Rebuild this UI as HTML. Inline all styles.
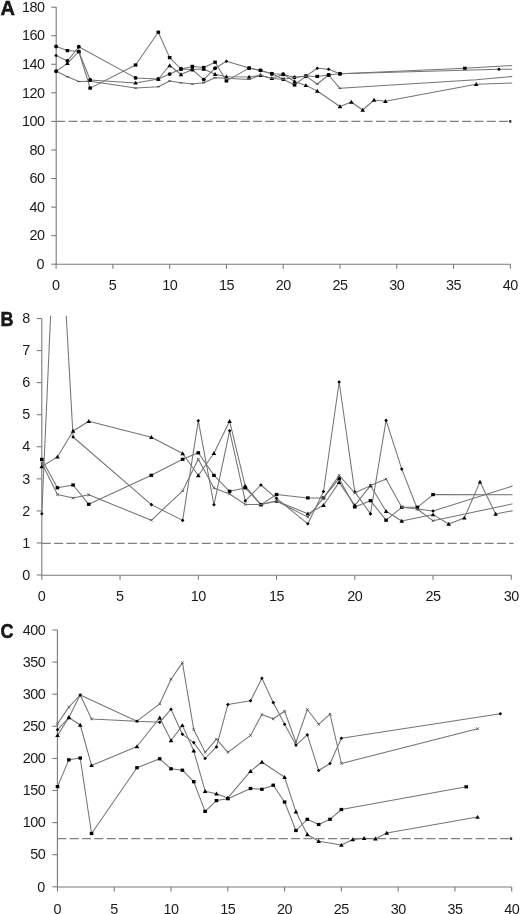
<!DOCTYPE html>
<html><head><meta charset="utf-8"><style>
html,body{margin:0;padding:0;background:#fff;width:520px;height:914px;overflow:hidden}
svg{display:block;filter:blur(0.4px)}
text{font-family:"Liberation Sans",sans-serif;fill:#1a1a1a}
</style></head><body>
<svg width="520" height="914" viewBox="0 0 520 914">
<defs>
<clipPath id="cA"><rect x="56.2" y="7.1" width="456.00" height="257.10"/></clipPath>
<clipPath id="cB"><rect x="38.8" y="315.8" width="473.80" height="259.50"/></clipPath>
<clipPath id="cC"><rect x="57.4" y="630.0" width="454.80" height="256.95"/></clipPath>
</defs>
<line x1="56.20" y1="7.10" x2="56.20" y2="264.20" stroke="#7a7a7a" stroke-width="1.1" />
<line x1="56.20" y1="264.20" x2="510.80" y2="264.20" stroke="#7a7a7a" stroke-width="1.1" />
<line x1="51.20" y1="264.20" x2="56.20" y2="264.20" stroke="#7a7a7a" stroke-width="1.1" />
<text x="44.40" y="268.90" text-anchor="end" font-size="14.4" font-weight="normal">0</text>
<line x1="51.20" y1="235.64" x2="56.20" y2="235.64" stroke="#7a7a7a" stroke-width="1.1" />
<text x="44.40" y="240.34" text-anchor="end" font-size="14.4" font-weight="normal" letter-spacing="-0.5">20</text>
<line x1="51.20" y1="207.09" x2="56.20" y2="207.09" stroke="#7a7a7a" stroke-width="1.1" />
<text x="44.40" y="211.79" text-anchor="end" font-size="14.4" font-weight="normal" letter-spacing="-0.5">40</text>
<line x1="51.20" y1="178.53" x2="56.20" y2="178.53" stroke="#7a7a7a" stroke-width="1.1" />
<text x="44.40" y="183.23" text-anchor="end" font-size="14.4" font-weight="normal" letter-spacing="-0.5">60</text>
<line x1="51.20" y1="149.98" x2="56.20" y2="149.98" stroke="#7a7a7a" stroke-width="1.1" />
<text x="44.40" y="154.68" text-anchor="end" font-size="14.4" font-weight="normal" letter-spacing="-0.5">80</text>
<line x1="51.20" y1="121.42" x2="56.20" y2="121.42" stroke="#7a7a7a" stroke-width="1.1" />
<text x="44.40" y="126.12" text-anchor="end" font-size="14.4" font-weight="normal" letter-spacing="-0.5">100</text>
<line x1="51.20" y1="92.86" x2="56.20" y2="92.86" stroke="#7a7a7a" stroke-width="1.1" />
<text x="44.40" y="97.56" text-anchor="end" font-size="14.4" font-weight="normal" letter-spacing="-0.5">120</text>
<line x1="51.20" y1="64.31" x2="56.20" y2="64.31" stroke="#7a7a7a" stroke-width="1.1" />
<text x="44.40" y="69.01" text-anchor="end" font-size="14.4" font-weight="normal" letter-spacing="-0.5">140</text>
<line x1="51.20" y1="35.75" x2="56.20" y2="35.75" stroke="#7a7a7a" stroke-width="1.1" />
<text x="44.40" y="40.45" text-anchor="end" font-size="14.4" font-weight="normal" letter-spacing="-0.5">160</text>
<line x1="51.20" y1="7.20" x2="56.20" y2="7.20" stroke="#7a7a7a" stroke-width="1.1" />
<text x="44.40" y="11.90" text-anchor="end" font-size="14.4" font-weight="normal" letter-spacing="-0.5">180</text>
<line x1="56.10" y1="264.20" x2="56.10" y2="268.70" stroke="#7a7a7a" stroke-width="1.1" />
<text x="56.10" y="289.80" text-anchor="middle" font-size="14.4" font-weight="normal">0</text>
<line x1="112.88" y1="264.20" x2="112.88" y2="268.70" stroke="#7a7a7a" stroke-width="1.1" />
<text x="112.88" y="289.80" text-anchor="middle" font-size="14.4" font-weight="normal">5</text>
<line x1="169.65" y1="264.20" x2="169.65" y2="268.70" stroke="#7a7a7a" stroke-width="1.1" />
<text x="169.65" y="289.80" text-anchor="middle" font-size="14.4" font-weight="normal" letter-spacing="-0.5">10</text>
<line x1="226.43" y1="264.20" x2="226.43" y2="268.70" stroke="#7a7a7a" stroke-width="1.1" />
<text x="226.43" y="289.80" text-anchor="middle" font-size="14.4" font-weight="normal" letter-spacing="-0.5">15</text>
<line x1="283.20" y1="264.20" x2="283.20" y2="268.70" stroke="#7a7a7a" stroke-width="1.1" />
<text x="283.20" y="289.80" text-anchor="middle" font-size="14.4" font-weight="normal" letter-spacing="-0.5">20</text>
<line x1="339.98" y1="264.20" x2="339.98" y2="268.70" stroke="#7a7a7a" stroke-width="1.1" />
<text x="339.98" y="289.80" text-anchor="middle" font-size="14.4" font-weight="normal" letter-spacing="-0.5">25</text>
<line x1="396.75" y1="264.20" x2="396.75" y2="268.70" stroke="#7a7a7a" stroke-width="1.1" />
<text x="396.75" y="289.80" text-anchor="middle" font-size="14.4" font-weight="normal" letter-spacing="-0.5">30</text>
<line x1="453.53" y1="264.20" x2="453.53" y2="268.70" stroke="#7a7a7a" stroke-width="1.1" />
<text x="453.53" y="289.80" text-anchor="middle" font-size="14.4" font-weight="normal" letter-spacing="-0.5">35</text>
<line x1="510.30" y1="264.20" x2="510.30" y2="268.70" stroke="#7a7a7a" stroke-width="1.1" />
<text x="510.30" y="289.80" text-anchor="middle" font-size="14.4" font-weight="normal" letter-spacing="-0.5">40</text>
<line x1="56.20" y1="121.42" x2="510.80" y2="121.42" stroke="#808080" stroke-width="1.1" stroke-dasharray="9 3.3"/>
<rect x="509.00" y="120.12" width="2.4" height="2.6" fill="#3a3a3a"/>
<line x1="41.80" y1="318.50" x2="41.80" y2="575.30" stroke="#7a7a7a" stroke-width="1.1" />
<line x1="41.80" y1="575.30" x2="511.40" y2="575.30" stroke="#7a7a7a" stroke-width="1.1" />
<line x1="36.80" y1="575.00" x2="41.80" y2="575.00" stroke="#7a7a7a" stroke-width="1.1" />
<text x="30.30" y="579.70" text-anchor="end" font-size="14.4" font-weight="normal">0</text>
<line x1="36.80" y1="542.94" x2="41.80" y2="542.94" stroke="#7a7a7a" stroke-width="1.1" />
<text x="30.30" y="547.64" text-anchor="end" font-size="14.4" font-weight="normal">1</text>
<line x1="36.80" y1="510.88" x2="41.80" y2="510.88" stroke="#7a7a7a" stroke-width="1.1" />
<text x="30.30" y="515.58" text-anchor="end" font-size="14.4" font-weight="normal">2</text>
<line x1="36.80" y1="478.82" x2="41.80" y2="478.82" stroke="#7a7a7a" stroke-width="1.1" />
<text x="30.30" y="483.52" text-anchor="end" font-size="14.4" font-weight="normal">3</text>
<line x1="36.80" y1="446.76" x2="41.80" y2="446.76" stroke="#7a7a7a" stroke-width="1.1" />
<text x="30.30" y="451.46" text-anchor="end" font-size="14.4" font-weight="normal">4</text>
<line x1="36.80" y1="414.70" x2="41.80" y2="414.70" stroke="#7a7a7a" stroke-width="1.1" />
<text x="30.30" y="419.40" text-anchor="end" font-size="14.4" font-weight="normal">5</text>
<line x1="36.80" y1="382.64" x2="41.80" y2="382.64" stroke="#7a7a7a" stroke-width="1.1" />
<text x="30.30" y="387.34" text-anchor="end" font-size="14.4" font-weight="normal">6</text>
<line x1="36.80" y1="350.58" x2="41.80" y2="350.58" stroke="#7a7a7a" stroke-width="1.1" />
<text x="30.30" y="355.28" text-anchor="end" font-size="14.4" font-weight="normal">7</text>
<line x1="36.80" y1="318.52" x2="41.80" y2="318.52" stroke="#7a7a7a" stroke-width="1.1" />
<text x="30.30" y="323.22" text-anchor="end" font-size="14.4" font-weight="normal">8</text>
<line x1="41.80" y1="575.30" x2="41.80" y2="579.80" stroke="#7a7a7a" stroke-width="1.1" />
<text x="41.80" y="601.20" text-anchor="middle" font-size="14.4" font-weight="normal">0</text>
<line x1="120.05" y1="575.30" x2="120.05" y2="579.80" stroke="#7a7a7a" stroke-width="1.1" />
<text x="120.05" y="601.20" text-anchor="middle" font-size="14.4" font-weight="normal">5</text>
<line x1="198.30" y1="575.30" x2="198.30" y2="579.80" stroke="#7a7a7a" stroke-width="1.1" />
<text x="198.30" y="601.20" text-anchor="middle" font-size="14.4" font-weight="normal" letter-spacing="-0.5">10</text>
<line x1="276.55" y1="575.30" x2="276.55" y2="579.80" stroke="#7a7a7a" stroke-width="1.1" />
<text x="276.55" y="601.20" text-anchor="middle" font-size="14.4" font-weight="normal" letter-spacing="-0.5">15</text>
<line x1="354.80" y1="575.30" x2="354.80" y2="579.80" stroke="#7a7a7a" stroke-width="1.1" />
<text x="354.80" y="601.20" text-anchor="middle" font-size="14.4" font-weight="normal" letter-spacing="-0.5">20</text>
<line x1="433.05" y1="575.30" x2="433.05" y2="579.80" stroke="#7a7a7a" stroke-width="1.1" />
<text x="433.05" y="601.20" text-anchor="middle" font-size="14.4" font-weight="normal" letter-spacing="-0.5">25</text>
<line x1="511.30" y1="575.30" x2="511.30" y2="579.80" stroke="#7a7a7a" stroke-width="1.1" />
<text x="511.30" y="601.20" text-anchor="middle" font-size="14.4" font-weight="normal" letter-spacing="-0.5">30</text>
<line x1="41.80" y1="543.35" x2="513.50" y2="543.35" stroke="#808080" stroke-width="1.1" stroke-dasharray="9 3.3"/>
<line x1="57.40" y1="630.00" x2="57.40" y2="886.95" stroke="#7a7a7a" stroke-width="1.1" />
<line x1="57.40" y1="886.95" x2="511.60" y2="886.95" stroke="#7a7a7a" stroke-width="1.1" />
<line x1="52.40" y1="886.80" x2="57.40" y2="886.80" stroke="#7a7a7a" stroke-width="1.1" />
<text x="45.30" y="891.50" text-anchor="end" font-size="14.4" font-weight="normal">0</text>
<line x1="52.40" y1="854.70" x2="57.40" y2="854.70" stroke="#7a7a7a" stroke-width="1.1" />
<text x="45.30" y="859.40" text-anchor="end" font-size="14.4" font-weight="normal" letter-spacing="-0.5">50</text>
<line x1="52.40" y1="822.60" x2="57.40" y2="822.60" stroke="#7a7a7a" stroke-width="1.1" />
<text x="45.30" y="827.30" text-anchor="end" font-size="14.4" font-weight="normal" letter-spacing="-0.5">100</text>
<line x1="52.40" y1="790.50" x2="57.40" y2="790.50" stroke="#7a7a7a" stroke-width="1.1" />
<text x="45.30" y="795.20" text-anchor="end" font-size="14.4" font-weight="normal" letter-spacing="-0.5">150</text>
<line x1="52.40" y1="758.40" x2="57.40" y2="758.40" stroke="#7a7a7a" stroke-width="1.1" />
<text x="45.30" y="763.10" text-anchor="end" font-size="14.4" font-weight="normal" letter-spacing="-0.5">200</text>
<line x1="52.40" y1="726.30" x2="57.40" y2="726.30" stroke="#7a7a7a" stroke-width="1.1" />
<text x="45.30" y="731.00" text-anchor="end" font-size="14.4" font-weight="normal" letter-spacing="-0.5">250</text>
<line x1="52.40" y1="694.20" x2="57.40" y2="694.20" stroke="#7a7a7a" stroke-width="1.1" />
<text x="45.30" y="698.90" text-anchor="end" font-size="14.4" font-weight="normal" letter-spacing="-0.5">300</text>
<line x1="52.40" y1="662.10" x2="57.40" y2="662.10" stroke="#7a7a7a" stroke-width="1.1" />
<text x="45.30" y="666.80" text-anchor="end" font-size="14.4" font-weight="normal" letter-spacing="-0.5">350</text>
<line x1="52.40" y1="630.00" x2="57.40" y2="630.00" stroke="#7a7a7a" stroke-width="1.1" />
<text x="45.30" y="634.70" text-anchor="end" font-size="14.4" font-weight="normal" letter-spacing="-0.5">400</text>
<line x1="57.50" y1="886.95" x2="57.50" y2="891.45" stroke="#7a7a7a" stroke-width="1.1" />
<text x="57.50" y="913.50" text-anchor="middle" font-size="14.4" font-weight="normal">0</text>
<line x1="114.28" y1="886.95" x2="114.28" y2="891.45" stroke="#7a7a7a" stroke-width="1.1" />
<text x="114.28" y="913.50" text-anchor="middle" font-size="14.4" font-weight="normal">5</text>
<line x1="171.05" y1="886.95" x2="171.05" y2="891.45" stroke="#7a7a7a" stroke-width="1.1" />
<text x="171.05" y="913.50" text-anchor="middle" font-size="14.4" font-weight="normal" letter-spacing="-0.5">10</text>
<line x1="227.83" y1="886.95" x2="227.83" y2="891.45" stroke="#7a7a7a" stroke-width="1.1" />
<text x="227.83" y="913.50" text-anchor="middle" font-size="14.4" font-weight="normal" letter-spacing="-0.5">15</text>
<line x1="284.60" y1="886.95" x2="284.60" y2="891.45" stroke="#7a7a7a" stroke-width="1.1" />
<text x="284.60" y="913.50" text-anchor="middle" font-size="14.4" font-weight="normal" letter-spacing="-0.5">20</text>
<line x1="341.38" y1="886.95" x2="341.38" y2="891.45" stroke="#7a7a7a" stroke-width="1.1" />
<text x="341.38" y="913.50" text-anchor="middle" font-size="14.4" font-weight="normal" letter-spacing="-0.5">25</text>
<line x1="398.15" y1="886.95" x2="398.15" y2="891.45" stroke="#7a7a7a" stroke-width="1.1" />
<text x="398.15" y="913.50" text-anchor="middle" font-size="14.4" font-weight="normal" letter-spacing="-0.5">30</text>
<line x1="454.93" y1="886.95" x2="454.93" y2="891.45" stroke="#7a7a7a" stroke-width="1.1" />
<text x="454.93" y="913.50" text-anchor="middle" font-size="14.4" font-weight="normal" letter-spacing="-0.5">35</text>
<line x1="511.70" y1="886.95" x2="511.70" y2="891.45" stroke="#7a7a7a" stroke-width="1.1" />
<text x="511.70" y="913.50" text-anchor="middle" font-size="14.4" font-weight="normal" letter-spacing="-0.5">40</text>
<line x1="57.40" y1="838.65" x2="511.60" y2="838.65" stroke="#808080" stroke-width="1.1" stroke-dasharray="9 3.3"/>
<rect x="509.80" y="837.35" width="2.4" height="2.6" fill="#3a3a3a"/>
<polyline points="56.10,46.50 67.45,50.60 78.81,51.50 90.16,88.10 135.59,65.00 158.30,32.20 169.65,57.60 181.00,69.00 192.36,66.40 203.72,67.50 215.07,62.20 226.43,80.90 249.13,68.10 260.49,70.40 271.85,73.80 283.20,79.30 294.56,85.00 305.91,76.10 317.27,76.40 328.62,75.00 339.98,73.80 464.88,68.30 521.65,65.00" fill="none" stroke="#747474" stroke-width="1.05" stroke-linejoin="round" clip-path="url(#cA)"/>
<rect x="65.66" y="49.00" width="3.6" height="3.2" fill="#000"/>
<rect x="77.01" y="49.90" width="3.6" height="3.2" fill="#000"/>
<rect x="88.36" y="86.50" width="3.6" height="3.2" fill="#000"/>
<rect x="133.78" y="63.40" width="3.6" height="3.2" fill="#000"/>
<rect x="156.50" y="30.60" width="3.6" height="3.2" fill="#000"/>
<rect x="167.85" y="56.00" width="3.6" height="3.2" fill="#000"/>
<rect x="179.20" y="67.40" width="3.6" height="3.2" fill="#000"/>
<rect x="190.56" y="64.80" width="3.6" height="3.2" fill="#000"/>
<rect x="201.91" y="65.90" width="3.6" height="3.2" fill="#000"/>
<rect x="213.27" y="60.60" width="3.6" height="3.2" fill="#000"/>
<rect x="224.62" y="79.30" width="3.6" height="3.2" fill="#000"/>
<rect x="247.33" y="66.50" width="3.6" height="3.2" fill="#000"/>
<rect x="258.69" y="68.80" width="3.6" height="3.2" fill="#000"/>
<rect x="270.05" y="72.20" width="3.6" height="3.2" fill="#000"/>
<rect x="281.40" y="77.70" width="3.6" height="3.2" fill="#000"/>
<rect x="292.75" y="83.40" width="3.6" height="3.2" fill="#000"/>
<rect x="304.11" y="74.50" width="3.6" height="3.2" fill="#000"/>
<rect x="315.47" y="74.80" width="3.6" height="3.2" fill="#000"/>
<rect x="326.82" y="73.40" width="3.6" height="3.2" fill="#000"/>
<rect x="338.18" y="72.20" width="3.6" height="3.2" fill="#000"/>
<rect x="463.08" y="66.70" width="3.6" height="3.2" fill="#000"/>
<polyline points="56.10,55.50 67.45,61.00 78.81,46.80 135.59,77.90 158.30,79.00 169.65,74.10 181.00,69.00 192.36,69.60 203.72,79.60 215.07,68.20 226.43,61.20 249.13,68.10 260.49,70.40 271.85,73.80 283.20,74.20 294.56,77.40 305.91,76.10 317.27,68.30 328.62,69.20 339.98,73.80 498.95,69.20 521.65,69.20" fill="none" stroke="#747474" stroke-width="1.05" stroke-linejoin="round" clip-path="url(#cA)"/>
<circle cx="67.45" cy="61.00" r="1.95" fill="#000"/>
<circle cx="78.81" cy="46.80" r="1.95" fill="#000"/>
<circle cx="135.59" cy="77.90" r="1.95" fill="#000"/>
<circle cx="158.30" cy="79.00" r="1.95" fill="#000"/>
<circle cx="169.65" cy="74.10" r="1.95" fill="#000"/>
<circle cx="181.00" cy="69.00" r="1.95" fill="#000"/>
<circle cx="192.36" cy="69.60" r="1.95" fill="#000"/>
<circle cx="203.72" cy="79.60" r="1.95" fill="#000"/>
<circle cx="215.07" cy="68.20" r="1.95" fill="#000"/>
<circle cx="249.13" cy="68.10" r="1.95" fill="#000"/>
<circle cx="260.49" cy="70.40" r="1.95" fill="#000"/>
<circle cx="271.85" cy="73.80" r="1.95" fill="#000"/>
<circle cx="283.20" cy="74.20" r="1.95" fill="#000"/>
<circle cx="294.56" cy="77.40" r="1.95" fill="#000"/>
<circle cx="305.91" cy="76.10" r="1.95" fill="#000"/>
<circle cx="339.98" cy="73.80" r="1.95" fill="#000"/>
<polyline points="56.10,71.30 67.45,63.40 78.81,51.50 90.16,80.00 135.59,82.90 158.30,79.00 169.65,65.50 181.00,74.50 192.36,69.60 203.72,69.00 215.07,74.20 226.43,76.80 249.13,77.00 260.49,75.30 271.85,78.40 283.20,74.20 294.56,81.50 305.91,85.40 317.27,91.00 339.98,106.50 351.33,102.00 362.69,110.00 374.04,100.00 385.40,101.20 476.24,84.20 521.65,82.60" fill="none" stroke="#747474" stroke-width="1.05" stroke-linejoin="round" clip-path="url(#cA)"/>
<path d="M67.45 61.20L69.75 65.10L65.16 65.10Z" fill="#000"/>
<path d="M78.81 49.30L81.11 53.20L76.51 53.20Z" fill="#000"/>
<path d="M135.59 80.70L137.89 84.60L133.28 84.60Z" fill="#000"/>
<path d="M158.30 76.80L160.60 80.70L156.00 80.70Z" fill="#000"/>
<path d="M169.65 63.30L171.95 67.20L167.35 67.20Z" fill="#000"/>
<path d="M181.00 72.30L183.31 76.20L178.70 76.20Z" fill="#000"/>
<path d="M192.36 67.40L194.66 71.30L190.06 71.30Z" fill="#000"/>
<path d="M203.72 66.80L206.02 70.70L201.41 70.70Z" fill="#000"/>
<path d="M215.07 72.00L217.37 75.90L212.77 75.90Z" fill="#000"/>
<path d="M226.43 74.60L228.73 78.50L224.12 78.50Z" fill="#000"/>
<path d="M249.13 74.80L251.44 78.70L246.83 78.70Z" fill="#000"/>
<path d="M260.49 73.10L262.79 77.00L258.19 77.00Z" fill="#000"/>
<path d="M271.85 76.20L274.15 80.10L269.55 80.10Z" fill="#000"/>
<path d="M283.20 72.00L285.50 75.90L280.90 75.90Z" fill="#000"/>
<path d="M294.56 79.30L296.86 83.20L292.25 83.20Z" fill="#000"/>
<path d="M305.91 83.20L308.21 87.10L303.61 87.10Z" fill="#000"/>
<path d="M317.27 88.80L319.57 92.70L314.97 92.70Z" fill="#000"/>
<path d="M339.98 104.30L342.28 108.20L337.68 108.20Z" fill="#000"/>
<path d="M351.33 99.80L353.63 103.70L349.03 103.70Z" fill="#000"/>
<path d="M362.69 107.80L364.99 111.70L360.39 111.70Z" fill="#000"/>
<path d="M374.04 97.80L376.34 101.70L371.74 101.70Z" fill="#000"/>
<path d="M385.40 99.00L387.70 102.90L383.10 102.90Z" fill="#000"/>
<path d="M476.24 82.00L478.54 85.90L473.94 85.90Z" fill="#000"/>
<polyline points="56.10,71.30 67.45,76.80 78.81,81.50 90.16,81.20 135.59,88.10 158.30,86.70 169.65,81.00 181.00,82.80 192.36,84.00 203.72,82.80 215.07,77.70 249.13,79.40 260.49,75.30 271.85,78.40 283.20,79.30 294.56,77.40 305.91,76.10 317.27,84.00 328.62,75.00 339.98,88.30 476.24,79.80 521.65,75.60" fill="none" stroke="#747474" stroke-width="1.05" stroke-linejoin="round" clip-path="url(#cA)"/>
<rect x="54.50" y="70.70" width="3.2" height="1.2" fill="#555"/>
<rect x="65.86" y="76.20" width="3.2" height="1.2" fill="#555"/>
<rect x="77.21" y="80.90" width="3.2" height="1.2" fill="#555"/>
<rect x="88.56" y="80.60" width="3.2" height="1.2" fill="#555"/>
<rect x="133.99" y="87.50" width="3.2" height="1.2" fill="#555"/>
<rect x="156.70" y="86.10" width="3.2" height="1.2" fill="#555"/>
<rect x="168.05" y="80.40" width="3.2" height="1.2" fill="#555"/>
<rect x="179.41" y="82.20" width="3.2" height="1.2" fill="#555"/>
<rect x="190.76" y="83.40" width="3.2" height="1.2" fill="#555"/>
<rect x="202.12" y="82.20" width="3.2" height="1.2" fill="#555"/>
<rect x="213.47" y="77.10" width="3.2" height="1.2" fill="#555"/>
<rect x="247.53" y="78.80" width="3.2" height="1.2" fill="#555"/>
<rect x="258.89" y="74.70" width="3.2" height="1.2" fill="#555"/>
<rect x="270.25" y="77.80" width="3.2" height="1.2" fill="#555"/>
<rect x="281.60" y="78.70" width="3.2" height="1.2" fill="#555"/>
<rect x="292.95" y="76.80" width="3.2" height="1.2" fill="#555"/>
<rect x="304.31" y="75.50" width="3.2" height="1.2" fill="#555"/>
<rect x="315.67" y="83.40" width="3.2" height="1.2" fill="#555"/>
<rect x="327.02" y="74.40" width="3.2" height="1.2" fill="#555"/>
<rect x="338.38" y="87.70" width="3.2" height="1.2" fill="#555"/>
<polyline points="41.80,513.80 57.45,161.00 73.10,437.00 151.35,504.60 182.65,520.40 198.30,420.70 213.95,504.80 229.60,430.80 245.25,500.90 260.90,485.00 276.55,498.30 307.85,523.80 323.50,491.50 339.15,382.00 354.80,491.90 370.45,513.90 386.10,420.40 401.75,469.10 417.40,509.00 433.05,511.00 519.12,484.00" fill="none" stroke="#747474" stroke-width="1.05" stroke-linejoin="round" clip-path="url(#cB)"/>
<path d="M41.80 512.00L43.60 513.80L41.80 515.60L40.00 513.80Z" fill="#000"/>
<path d="M73.10 435.20L74.90 437.00L73.10 438.80L71.30 437.00Z" fill="#000"/>
<path d="M151.35 502.80L153.15 504.60L151.35 506.40L149.55 504.60Z" fill="#000"/>
<path d="M182.65 518.60L184.45 520.40L182.65 522.20L180.85 520.40Z" fill="#000"/>
<path d="M198.30 418.90L200.10 420.70L198.30 422.50L196.50 420.70Z" fill="#000"/>
<path d="M213.95 503.00L215.75 504.80L213.95 506.60L212.15 504.80Z" fill="#000"/>
<path d="M229.60 429.00L231.40 430.80L229.60 432.60L227.80 430.80Z" fill="#000"/>
<path d="M245.25 499.10L247.05 500.90L245.25 502.70L243.45 500.90Z" fill="#000"/>
<path d="M260.90 483.20L262.70 485.00L260.90 486.80L259.10 485.00Z" fill="#000"/>
<path d="M276.55 496.50L278.35 498.30L276.55 500.10L274.75 498.30Z" fill="#000"/>
<path d="M307.85 522.00L309.65 523.80L307.85 525.60L306.05 523.80Z" fill="#000"/>
<path d="M323.50 489.70L325.30 491.50L323.50 493.30L321.70 491.50Z" fill="#000"/>
<path d="M339.15 380.20L340.95 382.00L339.15 383.80L337.35 382.00Z" fill="#000"/>
<path d="M354.80 490.10L356.60 491.90L354.80 493.70L353.00 491.90Z" fill="#000"/>
<path d="M370.45 512.10L372.25 513.90L370.45 515.70L368.65 513.90Z" fill="#000"/>
<path d="M386.10 418.60L387.90 420.40L386.10 422.20L384.30 420.40Z" fill="#000"/>
<path d="M401.75 467.30L403.55 469.10L401.75 470.90L399.95 469.10Z" fill="#000"/>
<path d="M417.40 507.20L419.20 509.00L417.40 510.80L415.60 509.00Z" fill="#000"/>
<path d="M433.05 509.20L434.85 511.00L433.05 512.80L431.25 511.00Z" fill="#000"/>
<polyline points="41.80,466.50 57.45,456.90 73.10,431.00 88.75,421.20 151.35,437.20 182.65,453.50 198.30,475.50 213.95,453.30 229.60,421.20 245.25,486.10 260.90,504.60 276.55,501.00 307.85,513.70 323.50,505.30 339.15,482.40 354.80,505.40 370.45,485.60 386.10,511.30 401.75,521.00 433.05,514.60 448.70,524.00 464.35,517.90 480.00,481.90 495.65,514.00 519.12,509.40" fill="none" stroke="#747474" stroke-width="1.05" stroke-linejoin="round" clip-path="url(#cB)"/>
<path d="M41.80 464.30L44.10 468.20L39.50 468.20Z" fill="#000"/>
<path d="M57.45 454.70L59.75 458.60L55.15 458.60Z" fill="#000"/>
<path d="M73.10 428.80L75.40 432.70L70.80 432.70Z" fill="#000"/>
<path d="M88.75 419.00L91.05 422.90L86.45 422.90Z" fill="#000"/>
<path d="M151.35 435.00L153.65 438.90L149.05 438.90Z" fill="#000"/>
<path d="M182.65 451.30L184.95 455.20L180.35 455.20Z" fill="#000"/>
<path d="M198.30 473.30L200.60 477.20L196.00 477.20Z" fill="#000"/>
<path d="M213.95 451.10L216.25 455.00L211.65 455.00Z" fill="#000"/>
<path d="M229.60 419.00L231.90 422.90L227.30 422.90Z" fill="#000"/>
<path d="M245.25 483.90L247.55 487.80L242.95 487.80Z" fill="#000"/>
<path d="M260.90 502.40L263.20 506.30L258.60 506.30Z" fill="#000"/>
<path d="M276.55 498.80L278.85 502.70L274.25 502.70Z" fill="#000"/>
<path d="M307.85 511.50L310.15 515.40L305.55 515.40Z" fill="#000"/>
<path d="M323.50 503.10L325.80 507.00L321.20 507.00Z" fill="#000"/>
<path d="M339.15 480.20L341.45 484.10L336.85 484.10Z" fill="#000"/>
<path d="M354.80 503.20L357.10 507.10L352.50 507.10Z" fill="#000"/>
<path d="M370.45 483.40L372.75 487.30L368.15 487.30Z" fill="#000"/>
<path d="M386.10 509.10L388.40 513.00L383.80 513.00Z" fill="#000"/>
<path d="M401.75 518.80L404.05 522.70L399.45 522.70Z" fill="#000"/>
<path d="M433.05 512.40L435.35 516.30L430.75 516.30Z" fill="#000"/>
<path d="M448.70 521.80L451.00 525.70L446.40 525.70Z" fill="#000"/>
<path d="M464.35 515.70L466.65 519.60L462.05 519.60Z" fill="#000"/>
<path d="M480.00 479.70L482.30 483.60L477.70 483.60Z" fill="#000"/>
<path d="M495.65 511.80L497.95 515.70L493.35 515.70Z" fill="#000"/>
<polyline points="41.80,459.40 57.45,487.80 73.10,485.00 88.75,504.30 151.35,475.30 182.65,459.30 198.30,452.80 213.95,475.40 229.60,491.30 245.25,487.90 260.90,504.60 276.55,494.50 307.85,497.90 323.50,497.90 339.15,478.70 354.80,506.90 370.45,500.70 386.10,520.20 401.75,507.30 417.40,507.30 433.05,494.60 519.12,494.80" fill="none" stroke="#747474" stroke-width="1.05" stroke-linejoin="round" clip-path="url(#cB)"/>
<rect x="40.00" y="457.80" width="3.6" height="3.2" fill="#000"/>
<rect x="55.65" y="486.20" width="3.6" height="3.2" fill="#000"/>
<rect x="71.30" y="483.40" width="3.6" height="3.2" fill="#000"/>
<rect x="86.95" y="502.70" width="3.6" height="3.2" fill="#000"/>
<rect x="149.55" y="473.70" width="3.6" height="3.2" fill="#000"/>
<rect x="180.85" y="457.70" width="3.6" height="3.2" fill="#000"/>
<rect x="196.50" y="451.20" width="3.6" height="3.2" fill="#000"/>
<rect x="212.15" y="473.80" width="3.6" height="3.2" fill="#000"/>
<rect x="227.80" y="489.70" width="3.6" height="3.2" fill="#000"/>
<rect x="243.45" y="486.30" width="3.6" height="3.2" fill="#000"/>
<rect x="259.10" y="503.00" width="3.6" height="3.2" fill="#000"/>
<rect x="274.75" y="492.90" width="3.6" height="3.2" fill="#000"/>
<rect x="306.05" y="496.30" width="3.6" height="3.2" fill="#000"/>
<rect x="321.70" y="496.30" width="3.6" height="3.2" fill="#000"/>
<rect x="337.35" y="477.10" width="3.6" height="3.2" fill="#000"/>
<rect x="353.00" y="505.30" width="3.6" height="3.2" fill="#000"/>
<rect x="368.65" y="499.10" width="3.6" height="3.2" fill="#000"/>
<rect x="384.30" y="518.60" width="3.6" height="3.2" fill="#000"/>
<rect x="399.95" y="505.70" width="3.6" height="3.2" fill="#000"/>
<rect x="415.60" y="505.70" width="3.6" height="3.2" fill="#000"/>
<rect x="431.25" y="493.00" width="3.6" height="3.2" fill="#000"/>
<polyline points="41.80,463.00 57.45,494.60 73.10,498.00 88.75,494.80 151.35,520.30 182.65,490.80 198.30,459.30 213.95,487.90 229.60,494.00 245.25,504.40 260.90,504.60 276.55,501.00 307.85,517.10 323.50,497.90 339.15,475.40 354.80,493.00 370.45,485.60 386.10,479.10 401.75,507.30 417.40,509.00 433.05,520.80 519.12,502.50" fill="none" stroke="#747474" stroke-width="1.05" stroke-linejoin="round" clip-path="url(#cB)"/>
<path d="M40.50 461.70L43.10 464.30M43.10 461.70L40.50 464.30" stroke="#555" stroke-width="0.9"/>
<path d="M56.15 493.30L58.75 495.90M58.75 493.30L56.15 495.90" stroke="#555" stroke-width="0.9"/>
<path d="M71.80 496.70L74.40 499.30M74.40 496.70L71.80 499.30" stroke="#555" stroke-width="0.9"/>
<path d="M87.45 493.50L90.05 496.10M90.05 493.50L87.45 496.10" stroke="#555" stroke-width="0.9"/>
<path d="M150.05 519.00L152.65 521.60M152.65 519.00L150.05 521.60" stroke="#555" stroke-width="0.9"/>
<path d="M181.35 489.50L183.95 492.10M183.95 489.50L181.35 492.10" stroke="#555" stroke-width="0.9"/>
<path d="M197.00 458.00L199.60 460.60M199.60 458.00L197.00 460.60" stroke="#555" stroke-width="0.9"/>
<path d="M212.65 486.60L215.25 489.20M215.25 486.60L212.65 489.20" stroke="#555" stroke-width="0.9"/>
<path d="M228.30 492.70L230.90 495.30M230.90 492.70L228.30 495.30" stroke="#555" stroke-width="0.9"/>
<path d="M243.95 503.10L246.55 505.70M246.55 503.10L243.95 505.70" stroke="#555" stroke-width="0.9"/>
<path d="M259.60 503.30L262.20 505.90M262.20 503.30L259.60 505.90" stroke="#555" stroke-width="0.9"/>
<path d="M275.25 499.70L277.85 502.30M277.85 499.70L275.25 502.30" stroke="#555" stroke-width="0.9"/>
<path d="M306.55 515.80L309.15 518.40M309.15 515.80L306.55 518.40" stroke="#555" stroke-width="0.9"/>
<path d="M322.20 496.60L324.80 499.20M324.80 496.60L322.20 499.20" stroke="#555" stroke-width="0.9"/>
<path d="M337.85 474.10L340.45 476.70M340.45 474.10L337.85 476.70" stroke="#555" stroke-width="0.9"/>
<path d="M353.50 491.70L356.10 494.30M356.10 491.70L353.50 494.30" stroke="#555" stroke-width="0.9"/>
<path d="M369.15 484.30L371.75 486.90M371.75 484.30L369.15 486.90" stroke="#555" stroke-width="0.9"/>
<path d="M384.80 477.80L387.40 480.40M387.40 477.80L384.80 480.40" stroke="#555" stroke-width="0.9"/>
<path d="M400.45 506.00L403.05 508.60M403.05 506.00L400.45 508.60" stroke="#555" stroke-width="0.9"/>
<path d="M416.10 507.70L418.70 510.30M418.70 507.70L416.10 510.30" stroke="#555" stroke-width="0.9"/>
<path d="M431.75 519.50L434.35 522.10M434.35 519.50L431.75 522.10" stroke="#555" stroke-width="0.9"/>
<polyline points="57.50,723.80 68.86,707.10 80.21,695.00 91.56,719.00 136.99,721.20 159.69,703.80 171.05,679.20 182.41,662.60 193.76,729.70 205.12,752.30 216.47,739.20 227.83,752.30 250.53,735.40 261.89,714.60 273.25,718.80 284.60,711.20 295.96,742.30 307.31,709.50 318.67,724.30 330.02,714.20 341.38,763.50 477.63,728.70" fill="none" stroke="#747474" stroke-width="1.05" stroke-linejoin="round" clip-path="url(#cC)"/>
<path d="M56.20 722.50L58.80 725.10M58.80 722.50L56.20 725.10" stroke="#555" stroke-width="0.9"/>
<path d="M67.56 705.80L70.16 708.40M70.16 705.80L67.56 708.40" stroke="#555" stroke-width="0.9"/>
<path d="M78.91 693.70L81.51 696.30M81.51 693.70L78.91 696.30" stroke="#555" stroke-width="0.9"/>
<path d="M90.27 717.70L92.86 720.30M92.86 717.70L90.27 720.30" stroke="#555" stroke-width="0.9"/>
<path d="M135.69 719.90L138.29 722.50M138.29 719.90L135.69 722.50" stroke="#555" stroke-width="0.9"/>
<path d="M158.39 702.50L161.00 705.10M161.00 702.50L158.39 705.10" stroke="#555" stroke-width="0.9"/>
<path d="M169.75 677.90L172.35 680.50M172.35 677.90L169.75 680.50" stroke="#555" stroke-width="0.9"/>
<path d="M181.10 661.30L183.71 663.90M183.71 661.30L181.10 663.90" stroke="#555" stroke-width="0.9"/>
<path d="M192.46 728.40L195.06 731.00M195.06 728.40L192.46 731.00" stroke="#555" stroke-width="0.9"/>
<path d="M203.81 751.00L206.42 753.60M206.42 751.00L203.81 753.60" stroke="#555" stroke-width="0.9"/>
<path d="M215.17 737.90L217.77 740.50M217.77 737.90L215.17 740.50" stroke="#555" stroke-width="0.9"/>
<path d="M226.53 751.00L229.13 753.60M229.13 751.00L226.53 753.60" stroke="#555" stroke-width="0.9"/>
<path d="M249.23 734.10L251.84 736.70M251.84 734.10L249.23 736.70" stroke="#555" stroke-width="0.9"/>
<path d="M260.59 713.30L263.19 715.90M263.19 713.30L260.59 715.90" stroke="#555" stroke-width="0.9"/>
<path d="M271.94 717.50L274.55 720.10M274.55 717.50L271.94 720.10" stroke="#555" stroke-width="0.9"/>
<path d="M283.30 709.90L285.90 712.50M285.90 709.90L283.30 712.50" stroke="#555" stroke-width="0.9"/>
<path d="M294.66 741.00L297.26 743.60M297.26 741.00L294.66 743.60" stroke="#555" stroke-width="0.9"/>
<path d="M306.01 708.20L308.61 710.80M308.61 708.20L306.01 710.80" stroke="#555" stroke-width="0.9"/>
<path d="M317.37 723.00L319.97 725.60M319.97 723.00L317.37 725.60" stroke="#555" stroke-width="0.9"/>
<path d="M328.72 712.90L331.32 715.50M331.32 712.90L328.72 715.50" stroke="#555" stroke-width="0.9"/>
<path d="M340.07 762.20L342.68 764.80M342.68 762.20L340.07 764.80" stroke="#555" stroke-width="0.9"/>
<path d="M476.33 727.40L478.94 730.00M478.94 727.40L476.33 730.00" stroke="#555" stroke-width="0.9"/>
<polyline points="57.50,729.80 68.86,717.50 80.21,695.00 136.99,721.20 159.69,722.30 171.05,709.20 182.41,734.30 193.76,742.60 205.12,758.50 216.47,746.90 227.83,704.60 250.53,700.80 261.89,678.20 273.25,702.60 284.60,724.30 295.96,745.10 307.31,734.90 318.67,770.50 330.02,763.50 341.38,738.20 500.35,713.70" fill="none" stroke="#747474" stroke-width="1.05" stroke-linejoin="round" clip-path="url(#cC)"/>
<path d="M57.50 728.00L59.30 729.80L57.50 731.60L55.70 729.80Z" fill="#000"/>
<path d="M68.86 715.70L70.66 717.50L68.86 719.30L67.06 717.50Z" fill="#000"/>
<path d="M80.21 693.20L82.01 695.00L80.21 696.80L78.41 695.00Z" fill="#000"/>
<path d="M136.99 719.40L138.79 721.20L136.99 723.00L135.19 721.20Z" fill="#000"/>
<path d="M159.69 720.50L161.50 722.30L159.69 724.10L157.89 722.30Z" fill="#000"/>
<path d="M171.05 707.40L172.85 709.20L171.05 711.00L169.25 709.20Z" fill="#000"/>
<path d="M182.41 732.50L184.21 734.30L182.41 736.10L180.60 734.30Z" fill="#000"/>
<path d="M193.76 740.80L195.56 742.60L193.76 744.40L191.96 742.60Z" fill="#000"/>
<path d="M205.12 756.70L206.92 758.50L205.12 760.30L203.31 758.50Z" fill="#000"/>
<path d="M216.47 745.10L218.27 746.90L216.47 748.70L214.67 746.90Z" fill="#000"/>
<path d="M227.83 702.80L229.63 704.60L227.83 706.40L226.03 704.60Z" fill="#000"/>
<path d="M250.53 699.00L252.34 700.80L250.53 702.60L248.73 700.80Z" fill="#000"/>
<path d="M261.89 676.40L263.69 678.20L261.89 680.00L260.09 678.20Z" fill="#000"/>
<path d="M273.25 700.80L275.05 702.60L273.25 704.40L271.44 702.60Z" fill="#000"/>
<path d="M284.60 722.50L286.40 724.30L284.60 726.10L282.80 724.30Z" fill="#000"/>
<path d="M295.96 743.30L297.76 745.10L295.96 746.90L294.16 745.10Z" fill="#000"/>
<path d="M307.31 733.10L309.11 734.90L307.31 736.70L305.51 734.90Z" fill="#000"/>
<path d="M318.67 768.70L320.47 770.50L318.67 772.30L316.87 770.50Z" fill="#000"/>
<path d="M330.02 761.70L331.82 763.50L330.02 765.30L328.22 763.50Z" fill="#000"/>
<path d="M341.38 736.40L343.18 738.20L341.38 740.00L339.57 738.20Z" fill="#000"/>
<path d="M500.35 711.90L502.15 713.70L500.35 715.50L498.55 713.70Z" fill="#000"/>
<polyline points="57.50,735.40 68.86,717.50 80.21,725.00 91.56,765.40 136.99,746.50 159.69,717.70 171.05,740.50 182.41,725.40 193.76,750.80 205.12,791.20 216.47,793.80 227.83,797.90 250.53,771.20 261.89,762.00 284.60,777.20 295.96,811.80 307.31,834.50 318.67,841.30 341.38,845.00 352.73,839.50 364.09,838.30 375.44,838.80 386.80,833.00 477.63,817.10" fill="none" stroke="#747474" stroke-width="1.05" stroke-linejoin="round" clip-path="url(#cC)"/>
<path d="M57.50 733.20L59.80 737.10L55.20 737.10Z" fill="#000"/>
<path d="M68.86 715.30L71.16 719.20L66.56 719.20Z" fill="#000"/>
<path d="M80.21 722.80L82.51 726.70L77.91 726.70Z" fill="#000"/>
<path d="M91.56 763.20L93.86 767.10L89.27 767.10Z" fill="#000"/>
<path d="M136.99 744.30L139.29 748.20L134.69 748.20Z" fill="#000"/>
<path d="M159.69 715.50L162.00 719.40L157.39 719.40Z" fill="#000"/>
<path d="M171.05 738.30L173.35 742.20L168.75 742.20Z" fill="#000"/>
<path d="M182.41 723.20L184.71 727.10L180.10 727.10Z" fill="#000"/>
<path d="M193.76 748.60L196.06 752.50L191.46 752.50Z" fill="#000"/>
<path d="M205.12 789.00L207.42 792.90L202.81 792.90Z" fill="#000"/>
<path d="M216.47 791.60L218.77 795.50L214.17 795.50Z" fill="#000"/>
<path d="M227.83 795.70L230.13 799.60L225.53 799.60Z" fill="#000"/>
<path d="M250.53 769.00L252.84 772.90L248.23 772.90Z" fill="#000"/>
<path d="M261.89 759.80L264.19 763.70L259.59 763.70Z" fill="#000"/>
<path d="M284.60 775.00L286.90 778.90L282.30 778.90Z" fill="#000"/>
<path d="M295.96 809.60L298.26 813.50L293.66 813.50Z" fill="#000"/>
<path d="M307.31 832.30L309.61 836.20L305.01 836.20Z" fill="#000"/>
<path d="M318.67 839.10L320.97 843.00L316.37 843.00Z" fill="#000"/>
<path d="M341.38 842.80L343.68 846.70L339.07 846.70Z" fill="#000"/>
<path d="M352.73 837.30L355.03 841.20L350.43 841.20Z" fill="#000"/>
<path d="M364.09 836.10L366.39 840.00L361.79 840.00Z" fill="#000"/>
<path d="M375.44 836.60L377.74 840.50L373.14 840.50Z" fill="#000"/>
<path d="M386.80 830.80L389.10 834.70L384.50 834.70Z" fill="#000"/>
<path d="M477.63 814.90L479.94 818.80L475.33 818.80Z" fill="#000"/>
<polyline points="57.50,786.60 68.86,759.80 80.21,758.00 91.56,833.50 136.99,767.70 159.69,758.80 171.05,768.80 182.41,770.20 193.76,781.70 205.12,811.40 216.47,800.60 227.83,798.70 250.53,788.50 261.89,789.30 273.25,785.20 284.60,802.00 295.96,830.50 307.31,819.30 318.67,824.50 330.02,819.30 341.38,809.50 466.28,786.80" fill="none" stroke="#747474" stroke-width="1.05" stroke-linejoin="round" clip-path="url(#cC)"/>
<rect x="55.70" y="785.00" width="3.6" height="3.2" fill="#000"/>
<rect x="67.06" y="758.20" width="3.6" height="3.2" fill="#000"/>
<rect x="78.41" y="756.40" width="3.6" height="3.2" fill="#000"/>
<rect x="89.77" y="831.90" width="3.6" height="3.2" fill="#000"/>
<rect x="135.19" y="766.10" width="3.6" height="3.2" fill="#000"/>
<rect x="157.89" y="757.20" width="3.6" height="3.2" fill="#000"/>
<rect x="169.25" y="767.20" width="3.6" height="3.2" fill="#000"/>
<rect x="180.60" y="768.60" width="3.6" height="3.2" fill="#000"/>
<rect x="191.96" y="780.10" width="3.6" height="3.2" fill="#000"/>
<rect x="203.31" y="809.80" width="3.6" height="3.2" fill="#000"/>
<rect x="214.67" y="799.00" width="3.6" height="3.2" fill="#000"/>
<rect x="226.03" y="797.10" width="3.6" height="3.2" fill="#000"/>
<rect x="248.73" y="786.90" width="3.6" height="3.2" fill="#000"/>
<rect x="260.09" y="787.70" width="3.6" height="3.2" fill="#000"/>
<rect x="271.44" y="783.60" width="3.6" height="3.2" fill="#000"/>
<rect x="282.80" y="800.40" width="3.6" height="3.2" fill="#000"/>
<rect x="294.16" y="828.90" width="3.6" height="3.2" fill="#000"/>
<rect x="305.51" y="817.70" width="3.6" height="3.2" fill="#000"/>
<rect x="316.87" y="822.90" width="3.6" height="3.2" fill="#000"/>
<rect x="328.22" y="817.70" width="3.6" height="3.2" fill="#000"/>
<rect x="339.57" y="807.90" width="3.6" height="3.2" fill="#000"/>
<rect x="464.48" y="785.20" width="3.6" height="3.2" fill="#000"/>
<path d="M56.10 53.70L57.90 55.50L56.10 57.30L54.30 55.50Z" fill="#000"/>
<path d="M226.43 59.40L228.23 61.20L226.43 63.00L224.62 61.20Z" fill="#000"/>
<path d="M317.27 66.50L319.07 68.30L317.27 70.10L315.47 68.30Z" fill="#000"/>
<path d="M328.62 67.40L330.42 69.20L328.62 71.00L326.82 69.20Z" fill="#000"/>
<path d="M498.95 67.40L500.75 69.20L498.95 71.00L497.15 69.20Z" fill="#000"/>
<circle cx="56.10" cy="46.50" r="1.95" fill="#000"/>
<circle cx="328.62" cy="75.00" r="1.95" fill="#000"/>
<circle cx="56.10" cy="71.30" r="1.95" fill="#000"/>
<circle cx="90.16" cy="80.00" r="1.95" fill="#000"/>
<text x="0.6" y="15.3" font-size="20" font-weight="bold" stroke="#000" stroke-width="0.45">A</text>
<text transform="translate(0.5,326.1) scale(0.9,1)" font-size="20" font-weight="bold" stroke="#000" stroke-width="0.45">B</text>
<text transform="translate(0.5,637.6) scale(0.9,1)" font-size="20" font-weight="bold" stroke="#000" stroke-width="0.45">C</text>
</svg>
</body></html>
